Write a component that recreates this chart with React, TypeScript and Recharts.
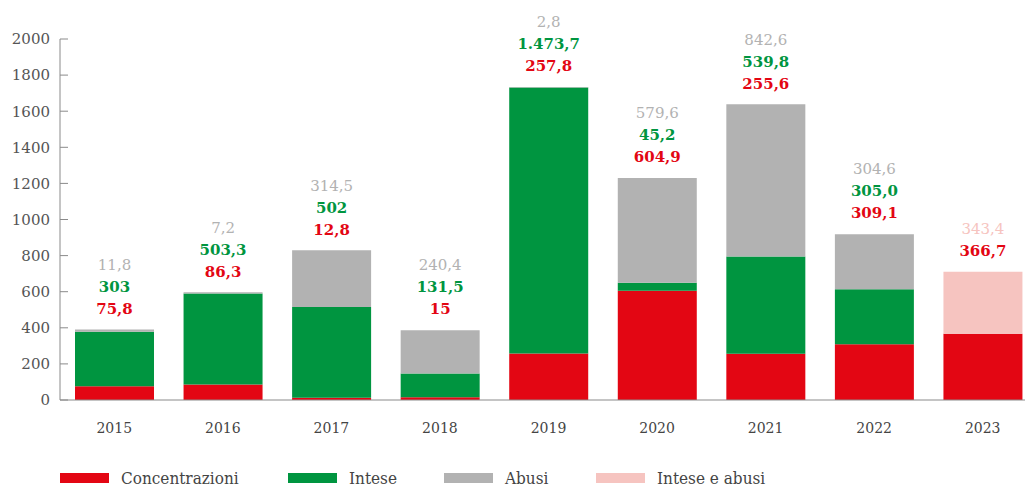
import { Bar, BarChart, LabelList, XAxis, YAxis } from "recharts";

const YEARS = ["2015", "2016", "2017", "2018", "2019", "2020", "2021", "2022", "2023"];
const CONCENTRAZIONI = [75.8, 86.3, 12.8, 15, 257.8, 604.9, 255.6, 309.1, 366.7];
const INTESE = [303, 503.3, 502, 131.5, 1473.7, 45.2, 539.8, 305.0, null];
const ABUSI = [11.8, 7.2, 314.5, 240.4, 2.8, 579.6, 842.6, 304.6, null];
const INTESE_E_ABUSI = [null, null, null, null, null, null, null, null, 343.4];

// labels as printed (Italian number format)
const CONC_LABELS = ["75,8", "86,3", "12,8", "15", "257,8", "604,9", "255,6", "309,1", "366,7"];
const INTESE_LABELS = ["303", "503,3", "502", "131,5", "1.473,7", "45,2", "539,8", "305,0", ""];
const ABUSI_LABELS = ["11,8", "7,2", "314,5", "240,4", "2,8", "579,6", "842,6", "304,6", ""];
const IA_LABELS = ["", "", "", "", "", "", "", "", "343,4"];

const Y_TICKS = [0, 200, 400, 600, 800, 1000, 1200, 1400, 1600, 1800, 2000];

const RED = "#e30613";
const GREEN = "#009540";
const GRAY = "#b2b2b2";
const PINK = "#f6c4c0";

const SERIF = "'DejaVu Serif', serif";

const data = YEARS.map((year, i) => ({
  year,
  conc: CONCENTRAZIONI[i],
  intese: INTESE[i],
  abusi: ABUSI[i],
  ia: INTESE_E_ABUSI[i],
}));

const LEGEND = [
  { name: "Concentrazioni", color: RED, left: 60 },
  { name: "Intese", color: GREEN, left: 288 },
  { name: "Abusi", color: GRAY, left: 444 },
  { name: "Intese e abusi", color: PINK, left: 596 },
];

// labels stacked above the top segment of each bar
function StackLabels(props: any) {
  const { x, y, width, value } = props;
  const i = YEARS.indexOf(String(value));
  if (i < 0) return null;
  const lines = [
    ABUSI_LABELS[i] ? { t: ABUSI_LABELS[i], c: GRAY, w: 400 } : null,
    IA_LABELS[i] ? { t: IA_LABELS[i], c: PINK, w: 400 } : null,
    INTESE_LABELS[i] ? { t: INTESE_LABELS[i], c: GREEN, w: 700 } : null,
    CONC_LABELS[i] ? { t: CONC_LABELS[i], c: RED, w: 700 } : null,
  ].filter(Boolean) as { t: string; c: string; w: number }[];
  const cx = x + width / 2;
  return (
    <g>
      {lines.map((l, k) => (
        <text
          key={k}
          x={cx}
          y={y - 21 - (lines.length - 1 - k) * 22}
          dy="0.355em"
          textAnchor="middle"
          fill={l.c}
          fontWeight={l.w}
          fontSize={15}
          fontFamily={SERIF}
        >
          {l.t}
        </text>
      ))}
    </g>
  );
}

export default function App() {
  return (
    <div
      style={{
        position: "absolute",
        left: 0,
        top: 0,
        width: 1025,
        height: 488,
        overflow: "hidden",
        background: "#fff",
      }}
    >
      <BarChart
        width={1040}
        height={488}
        data={data}
        margin={{ top: 39, right: 3, left: 0, bottom: 38 }}
        barSize={79}
      >
        <XAxis
          dataKey="year"
          tickLine={false}
          tickSize={0}
          tickMargin={23}
          height={50}
          axisLine={{ stroke: "#8a8a8a" }}
          tick={{ fill: "#444", fontSize: 14, fontFamily: SERIF }}
        />
        <YAxis
          domain={[0, 2000]}
          ticks={Y_TICKS}
          width={60}
          tickSize={-8}
          tickMargin={18}
          axisLine={{ stroke: "#8a8a8a" }}
          tickLine={{ stroke: "#8a8a8a" }}
          tick={{ fill: "#555", fontSize: 15, fontFamily: SERIF }}
          interval={0}
        />
        <Bar dataKey="conc" stackId="a" fill={RED} isAnimationActive={false} />
        <Bar dataKey="intese" stackId="a" fill={GREEN} isAnimationActive={false} />
        <Bar dataKey="abusi" stackId="a" fill={GRAY} isAnimationActive={false}>
          <LabelList dataKey="year" content={<StackLabels />} />
        </Bar>
        <Bar dataKey="ia" stackId="a" fill={PINK} isAnimationActive={false}>
          <LabelList dataKey="year" content={<StackLabels />} />
        </Bar>
      </BarChart>
      <div style={{ position: "absolute", left: 0, top: 468, width: 1025, height: 20 }}>
        {LEGEND.map((s) => (
          <div
            key={s.name}
            style={{
              position: "absolute",
              left: s.left,
              top: 0,
              display: "flex",
              alignItems: "center",
              height: 20,
              whiteSpace: "nowrap",
            }}
          >
            <span style={{ display: "inline-block", width: 49, height: 10, background: s.color }} />
            <span
              style={{
                marginLeft: 12,
                fontFamily: "'DejaVu Serif Condensed', 'DejaVu Serif', serif",
                fontStretch: "condensed",
                fontSize: 17,
                lineHeight: "20px",
                color: "#444",
              }}
            >
              {s.name}
            </span>
          </div>
        ))}
      </div>
    </div>
  );
}
